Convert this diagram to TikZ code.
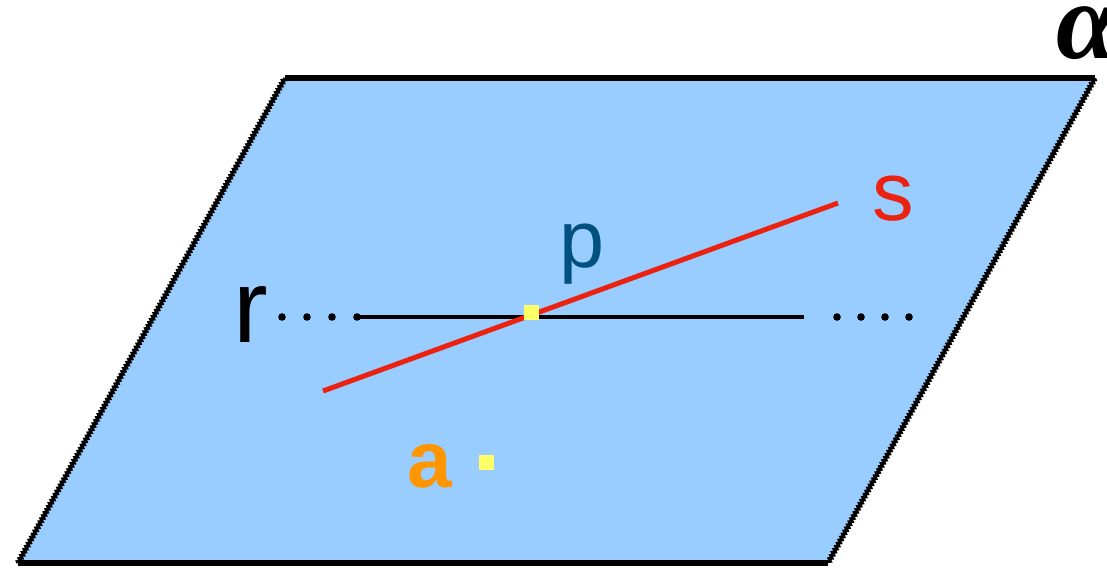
\documentclass[tikz,border=0pt]{standalone}
\usepackage{fontspec}
\setmainfont{Liberation Sans}
\newfontfamily\alphafont{Liberation Serif}
\usepackage{xcolor}
\definecolor{plane}{RGB}{153,204,255}
\definecolor{redline}{RGB}{236,34,16}
\definecolor{darkblue}{RGB}{0,80,128}
\definecolor{orange}{RGB}{255,150,0}
\definecolor{pointy}{RGB}{255,255,102}
\usepackage{tikz}
\usetikzlibrary{
    decorations.pathmorphing,
    positioning
}

\begin{document}
\begin{tikzpicture}[x=1pt, y=-1pt,
        edge/.style={line width=6pt},
        side/.style={line width=3pt, decorate, decoration={zigzag, segment length=3.5pt, amplitude=1.2pt}},
        lbl/.style={inner sep=0pt, anchor=base, font=\fontsize{#1}{#1}\selectfont},
        pnt/.style={fill=pointy, minimum size=15pt, inner sep=0pt}
    ]
        \clip (0,0) rectangle (1107,568);
        
        % plane
        \coordinate (tl) at (285,78);
        \coordinate (tr) at (1095,78);
        \coordinate (br) at (828,563);
        \coordinate (bl) at (18,563);
        \fill[plane] (tl) -- (tr) -- (br) -- (bl) -- cycle;
        \draw[edge] (tl) -- (tr);
        \draw[edge] (bl) -- (br);
        \draw[side] (bl) -- (tl);
        \draw[side] (br) -- (tr);
        
        % line r
        \coordinate (r1) at (357,317);
        \coordinate (r2) at (804,317);
        \draw[line width=4.5pt] (r1) -- (r2);
        \foreach \x in {282,307,332,357,837,861,885,909}
            \fill (\x,317) circle (3.8pt);
        
        % line s
        \coordinate (s1) at (323,391);
        \coordinate (s2) at (838,203);
        \draw[line width=5pt, redline] (s1) -- (s2);
        
        \node[pnt] (P) at (531,312.5) {};
        \node[pnt] (A) at (486,462) {};
        
        \node[lbl=104] (r) at (251,342) {r};
        \node[lbl=83, text=redline] (s) at (893,220) {s};
        \node[lbl=81, text=darkblue] (p) at (582,267) {p};
        \node[lbl=80, text=orange] (a) at (430,487) {\bfseries a};
        \node[lbl=110, anchor=base west] (alpha) at (1056,58) {\alphafont\bfseries\itshape α};
    \end{tikzpicture}
\end{document}
